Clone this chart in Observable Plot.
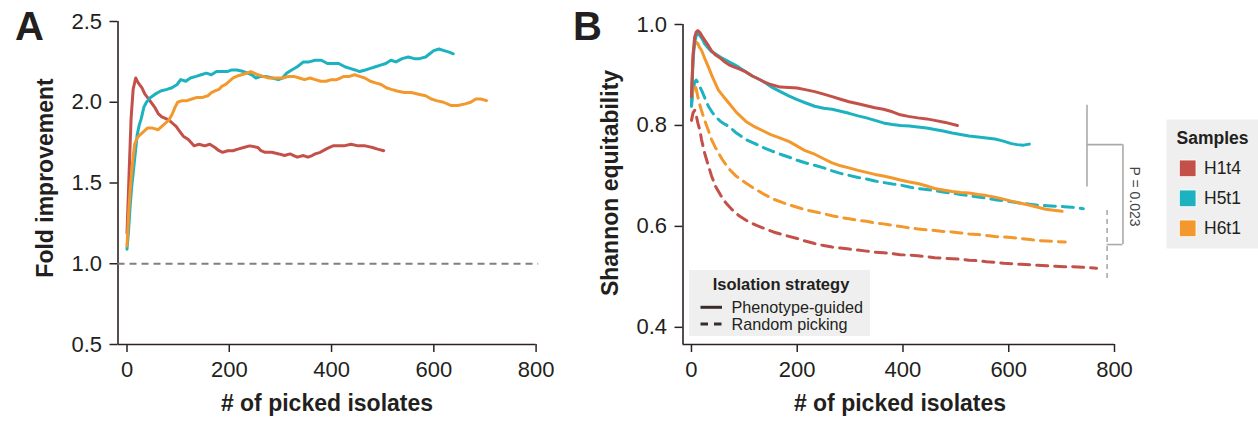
<!DOCTYPE html>
<html><head><meta charset="utf-8">
<script src="https://cdn.jsdelivr.net/npm/d3@7"></script>
<script src="https://cdn.jsdelivr.net/npm/@observablehq/plot@0.6"></script>
<style>
body{margin:0;background:#fff;font-family:"Liberation Sans",Arial,sans-serif;color:#231f20}
#wrap{position:relative;width:1258px;height:421px;overflow:hidden;background:#fff}
#wrap > svg{position:absolute;top:0}
</style></head><body><div id="wrap"></div>
<script>
// ---------- data ----------
const samples = ["H1t4", "H5t1", "H6t1"];
const sampleColors = ["#c4504a", "#1cb2c0", "#f3982c"];
const strategies = ["Phenotype-guided", "Random picking"];
const xTicks = [0, 200, 400, 600, 800];
const yTicksA = [0.5, 1.0, 1.5, 2.0, 2.5];
const yTicksB = [0.4, 0.6, 0.8, 1.0];
const baselineFold = 1.0;

// Panel A: fold improvement [isolates, fold]
const foldH1t4 = [[0,1.19],[4,1.55],[8,1.9],[12,2.08],[17,2.15],[22,2.12],[29,2.09],[35,2.05],[40,2.03],[47,2.0],[54,1.97],[61,1.93],[68,1.91],[75,1.9],[82,1.89],[89,1.87],[96,1.85],[103,1.82],[110,1.79],[120,1.77],[131,1.73],[141,1.74],[152,1.73],[162,1.74],[172,1.72],[180,1.70],[187,1.69],[197,1.70],[207,1.70],[217,1.71],[228,1.72],[240,1.73],[256,1.72],[262,1.70],[270,1.69],[283,1.69],[297,1.68],[308,1.67],[319,1.68],[326,1.67],[333,1.66],[345,1.67],[354,1.66],[362,1.67],[368,1.68],[378,1.69],[389,1.71],[396,1.72],[403,1.73],[414,1.73],[424,1.73],[438,1.74],[452,1.73],[466,1.73],[480,1.72],[490,1.71],[502,1.70]];
const foldH5t1 = [[0,1.09],[3,1.2],[6,1.35],[9,1.47],[12,1.56],[16,1.68],[20,1.80],[24,1.86],[28,1.90],[33,1.97],[38,2.00],[46,2.03],[55,2.05],[66,2.07],[78,2.08],[88,2.09],[98,2.11],[105,2.14],[115,2.13],[124,2.15],[135,2.16],[145,2.17],[155,2.18],[165,2.17],[175,2.19],[186,2.19],[196,2.19],[205,2.20],[215,2.20],[228,2.19],[236,2.18],[244,2.17],[252,2.15],[262,2.16],[272,2.16],[284,2.15],[296,2.14],[304,2.15],[312,2.18],[322,2.20],[333,2.22],[345,2.25],[356,2.25],[368,2.26],[380,2.26],[392,2.24],[402,2.24],[414,2.24],[426,2.22],[436,2.21],[446,2.20],[455,2.19],[466,2.20],[476,2.21],[486,2.22],[496,2.23],[506,2.24],[516,2.26],[526,2.25],[538,2.27],[550,2.28],[562,2.27],[572,2.27],[584,2.28],[592,2.30],[600,2.32],[610,2.33],[620,2.32],[630,2.31],[638,2.30]];
const foldH6t1 = [[0,1.11],[3,1.3],[6,1.45],[9,1.56],[12,1.66],[15,1.74],[20,1.78],[26,1.80],[33,1.82],[40,1.84],[50,1.84],[61,1.83],[68,1.85],[75,1.87],[82,1.89],[89,1.93],[94,1.97],[99,2.00],[108,2.01],[117,2.01],[127,2.02],[137,2.03],[148,2.03],[158,2.04],[165,2.06],[172,2.07],[180,2.08],[186,2.10],[193,2.11],[200,2.13],[207,2.15],[214,2.16],[224,2.17],[235,2.18],[242,2.19],[249,2.18],[256,2.17],[266,2.16],[277,2.15],[290,2.15],[305,2.15],[316,2.16],[326,2.16],[337,2.15],[347,2.14],[358,2.15],[368,2.14],[379,2.13],[389,2.13],[400,2.14],[410,2.14],[417,2.15],[424,2.16],[435,2.16],[445,2.17],[455,2.16],[465,2.15],[476,2.13],[486,2.12],[497,2.11],[507,2.09],[517,2.08],[528,2.07],[542,2.06],[556,2.06],[570,2.05],[584,2.04],[595,2.02],[605,2.01],[619,2.00],[633,1.98],[647,1.98],[661,1.99],[672,2.00],[682,2.02],[692,2.02],[703,2.01]];

// Panel B: Shannon equitability
const phenoH1t4_x = [0,3,6,9,12,16,20,25,32,38,45,55,64,71,80,90,103,115,125,136,150,168,185,200,215,233,250,266,282,298,315,331,347,363,380,395,410,428,445,460,480,503];
const phenoH1t4_y = [0.857,0.94,0.975,0.985,0.988,0.984,0.977,0.969,0.958,0.948,0.94,0.933,0.925,0.92,0.916,0.912,0.906,0.898,0.893,0.887,0.881,0.876,0.875,0.874,0.871,0.867,0.862,0.857,0.852,0.847,0.843,0.839,0.835,0.832,0.827,0.821,0.818,0.815,0.813,0.81,0.806,0.80];
const phenoH5t1_x = [0,3,6,9,12,16,20,25,32,38,45,55,64,71,80,90,103,115,125,136,150,168,185,200,215,233,250,266,282,298,315,331,347,363,380,395,412,428,445,460,476,493,509,525,542,558,574,590,605,616,628,639];
const phenoH5t1_y = [0.84,0.93,0.965,0.978,0.982,0.978,0.972,0.962,0.953,0.946,0.942,0.935,0.93,0.926,0.921,0.915,0.906,0.898,0.893,0.887,0.877,0.867,0.858,0.851,0.845,0.838,0.834,0.832,0.828,0.824,0.819,0.815,0.81,0.805,0.802,0.80,0.799,0.797,0.795,0.792,0.789,0.785,0.782,0.779,0.777,0.775,0.773,0.769,0.764,0.762,0.761,0.763];
const phenoH6t1_x = [0,2,4,6,9,12,15,19,25,32,40,51,60,71,85,103,120,136,150,168,185,200,215,233,250,266,282,298,315,331,347,363,380,395,412,428,445,460,476,493,509,525,542,558,574,590,605,623,640,655,670,685,701];
const phenoH6t1_y = [0.85,0.91,0.95,0.96,0.965,0.962,0.955,0.949,0.933,0.916,0.895,0.87,0.858,0.844,0.826,0.808,0.797,0.789,0.782,0.775,0.768,0.759,0.75,0.743,0.734,0.726,0.72,0.716,0.711,0.707,0.703,0.70,0.696,0.692,0.688,0.685,0.68,0.675,0.672,0.669,0.667,0.666,0.663,0.661,0.658,0.654,0.65,0.646,0.642,0.638,0.634,0.632,0.63];
const randH1t4_x = [0,3,6,9,12,16,19,25,32,38,45,55,64,77,90,105,123,140,155,178,200,215,233,250,266,282,298,315,331,347,363,380,395,412,428,445,460,476,493,509,525,542,558,574,590,605,623,640,655,672,688,705,720,740,766];
const randH1t4_y = [0.81,0.825,0.83,0.82,0.805,0.79,0.772,0.745,0.72,0.70,0.68,0.662,0.648,0.633,0.621,0.611,0.602,0.595,0.589,0.582,0.576,0.571,0.566,0.562,0.559,0.557,0.555,0.553,0.551,0.549,0.548,0.546,0.544,0.543,0.542,0.54,0.538,0.537,0.536,0.535,0.533,0.532,0.53,0.529,0.527,0.526,0.525,0.524,0.523,0.522,0.521,0.52,0.52,0.519,0.517];
const randH5t1_x = [0,3,6,9,12,15,19,25,32,38,45,55,64,71,85,103,120,136,150,168,185,200,215,233,250,266,282,298,315,331,347,363,380,395,412,428,445,460,476,493,509,525,542,558,574,590,605,623,640,655,672,688,705,720,741];
const randH5t1_y = [0.838,0.87,0.885,0.89,0.885,0.878,0.87,0.855,0.838,0.828,0.818,0.808,0.802,0.798,0.785,0.772,0.764,0.756,0.75,0.743,0.737,0.731,0.726,0.721,0.716,0.71,0.705,0.701,0.697,0.694,0.69,0.687,0.684,0.682,0.678,0.675,0.673,0.671,0.668,0.666,0.663,0.661,0.658,0.656,0.653,0.651,0.649,0.646,0.644,0.642,0.641,0.64,0.639,0.638,0.635];
const randH6t1_x = [0,3,6,9,12,16,20,25,32,38,45,58,70,84,100,116,135,155,178,200,215,233,250,266,282,298,315,331,347,363,380,395,412,428,445,460,476,493,509,525,542,558,574,590,605,623,640,655,672,688,707];
const randH6t1_y = [0.85,0.87,0.88,0.872,0.857,0.84,0.826,0.81,0.79,0.772,0.757,0.733,0.715,0.70,0.688,0.677,0.665,0.654,0.645,0.638,0.633,0.629,0.625,0.621,0.618,0.615,0.612,0.61,0.607,0.605,0.602,0.60,0.597,0.595,0.593,0.592,0.59,0.589,0.587,0.585,0.584,0.582,0.58,0.579,0.578,0.576,0.574,0.572,0.571,0.57,0.569];

// significance bracket (data units)
const groupPheno = {x: 748, y1: 0.678, y2: 0.84};
const groupRandom = {x: 786, y1: 0.497, y2: 0.636};
const bracketJoin = {x: 816, yTop: 0.762, yBottom: 0.564};
const pLabel = {text: "P = 0.023", x: 837, y: 0.659};

// ---------- build ----------
const FONT = '"Liberation Sans", Arial, sans-serif';
const AX = "#2d2222";
const INK = "#231f20";

const rowsA = [];
[foldH1t4, foldH5t1, foldH6t1].forEach((arr, i) => arr.forEach(([x, y]) => rowsA.push({sample: samples[i], x, y})));
const rowsB = [];
function addB(xs, ys, sample, strategy) { xs.forEach((x, i) => rowsB.push({sample, strategy, x, y: ys[i]})); }
addB(randH1t4_x, randH1t4_y, "H1t4", strategies[1]);
addB(randH5t1_x, randH5t1_y, "H5t1", strategies[1]);
addB(randH6t1_x, randH6t1_y, "H6t1", strategies[1]);
addB(phenoH6t1_x, phenoH6t1_y, "H6t1", strategies[0]);
addB(phenoH5t1_x, phenoH5t1_y, "H5t1", strategies[0]);
addB(phenoH1t4_x, phenoH1t4_y, "H1t4", strategies[0]);

const xDomA = [-17.6, 800], yDomA = [0.5, 2.5];
const xDomB = [-16, 800], yDomB = [0.366, 1.0];

const plotA = Plot.plot({
  width: 560, height: 421,
  marginLeft: 117.5, marginRight: 24.4, marginTop: 21, marginBottom: 77,
  style: {fontFamily: FONT, fontSize: "22px", color: AX, background: "transparent", overflow: "visible"},
  x: {domain: xDomA},
  y: {domain: yDomA},
  color: {domain: samples, range: sampleColors},
  marks: [
    Plot.axisX({ticks: xTicks, tickSize: 8, tickPadding: 9, label: null, tickFormat: d => String(d), fontSize: 22, fill: INK, strokeWidth: 1.5}),
    Plot.axisY({ticks: yTicksA, tickSize: 8, tickPadding: 8, label: null, tickFormat: d => d.toFixed(1), fontSize: 22, fill: INK, strokeWidth: 1.5}),
    Plot.ruleY([yDomA[0]], {x1: xDomA[0], x2: 800, stroke: AX, strokeWidth: 1.6}),
    Plot.ruleX([xDomA[0]], {y1: yDomA[0], y2: yDomA[1], stroke: AX, strokeWidth: 1.6}),
    Plot.ruleY([baselineFold], {x1: xDomA[0], x2: 805, stroke: "#808080", strokeWidth: 2, strokeDasharray: "7,5"}),
    Plot.line(rowsA, {x: "x", y: "y", z: "sample", stroke: "sample", strokeWidth: 3, strokeLinejoin: "round"})
  ]
});
plotA.style.left = "0px";

const plotB = Plot.plot({
  width: 698, height: 421,
  marginLeft: 122.5, marginRight: 144, marginTop: 24, marginBottom: 77,
  style: {fontFamily: FONT, fontSize: "22px", color: AX, background: "transparent", overflow: "visible"},
  x: {domain: xDomB},
  y: {domain: yDomB},
  color: {domain: samples, range: sampleColors},
  marks: [
    Plot.axisX({ticks: xTicks, tickSize: 8, tickPadding: 9, label: null, tickFormat: d => String(d), fontSize: 22, fill: INK, strokeWidth: 1.5}),
    Plot.axisY({ticks: yTicksB, tickSize: 8, tickPadding: 8, label: null, tickFormat: d => d.toFixed(1), fontSize: 22, fill: INK, strokeWidth: 1.5}),
    Plot.ruleY([yDomB[0]], {x1: xDomB[0], x2: 800, stroke: AX, strokeWidth: 1.6}),
    Plot.ruleX([xDomB[0]], {y1: yDomB[0], y2: yDomB[1], stroke: AX, strokeWidth: 1.6}),
    Plot.line(rowsB.filter(d => d.strategy === strategies[1]), {x: "x", y: "y", z: "sample", stroke: "sample", strokeWidth: 3, strokeDasharray: "11,7"}),
    Plot.line(rowsB.filter(d => d.strategy === strategies[0]), {x: "x", y: "y", z: "sample", stroke: "sample", strokeWidth: 3, strokeLinejoin: "round"}),
    Plot.ruleX([groupPheno.x], {y1: groupPheno.y1, y2: groupPheno.y2, stroke: "#aaaaaa", strokeWidth: 1.6}),
    Plot.ruleY([bracketJoin.yTop], {x1: groupPheno.x, x2: bracketJoin.x, stroke: "#aaaaaa", strokeWidth: 1.6}),
    Plot.ruleX([bracketJoin.x], {y1: bracketJoin.yBottom, y2: bracketJoin.yTop, stroke: "#aaaaaa", strokeWidth: 1.6}),
    Plot.ruleY([bracketJoin.yBottom], {x1: groupRandom.x, x2: bracketJoin.x, stroke: "#aaaaaa", strokeWidth: 1.6}),
    Plot.ruleX([groupRandom.x], {y1: groupRandom.y1, y2: groupRandom.y2, stroke: "#aaaaaa", strokeWidth: 1.6, strokeDasharray: "5,4"}),
    Plot.text([pLabel], {x: "x", y: "y", text: "text", rotate: 90, fontSize: 14, fill: "#444", textAnchor: "middle", lineAnchor: "middle"})
  ]
});
plotB.style.left = "560px";

const wrap = document.getElementById("wrap");
wrap.appendChild(plotA);
wrap.appendChild(plotB);

// overlay: panel letters, axis titles, legends
const ov = d3.select(wrap).append("svg")
  .attr("width", 1258).attr("height", 421)
  .style("position", "absolute").style("left", "0px").style("top", "0px")
  .style("font-family", FONT).style("pointer-events", "none");

function txt(x, y, s, size, weight, anchor, rot) {
  const t = ov.append("text").attr("font-size", size).attr("font-weight", weight)
    .attr("fill", INK).attr("text-anchor", anchor || "start").text(s);
  if (rot) t.attr("transform", `translate(${x},${y}) rotate(${rot})`);
  else t.attr("x", x).attr("y", y);
  return t;
}
txt(15, 40, "A", 40, "bold");
txt(573, 40, "B", 40, "bold");
txt(52.5, 178, "Fold improvement", 23, "bold", "middle", -90);
txt(327, 411, "# of picked isolates", 23, "bold", "middle");
txt(617.5, 183, "Shannon equitability", 23, "bold", "middle", -90);
txt(900, 411, "# of picked isolates", 23, "bold", "middle");

// Isolation strategy legend
ov.append("rect").attr("x", 689).attr("y", 270).attr("width", 181).attr("height", 66).attr("fill", "#efefef");
txt(781, 290, "Isolation strategy", 16.5, "bold", "middle");
ov.append("line").attr("x1", 700.5).attr("x2", 722).attr("y1", 307.3).attr("y2", 307.3)
  .attr("stroke", "#3a2b2b").attr("stroke-width", 3);
ov.append("line").attr("x1", 700.5).attr("x2", 722).attr("y1", 324).attr("y2", 324)
  .attr("stroke", "#3a2b2b").attr("stroke-width", 3).attr("stroke-dasharray", "7.5,6");
txt(731.5, 312.8, strategies[0], 16.2, "normal");
txt(731.5, 329.5, strategies[1], 16.2, "normal");

// Samples legend
ov.append("rect").attr("x", 1166.5).attr("y", 119.5).attr("width", 100).attr("height", 129).attr("fill", "#efefef");
txt(1176.5, 144.3, "Samples", 17.5, "bold");
samples.forEach((s, i) => {
  ov.append("rect").attr("x", 1179.3).attr("y", 160 + i * 30).attr("width", 16.7).attr("height", 16.7)
    .attr("fill", sampleColors[i]).attr("stroke", "#fff").attr("stroke-width", 0.8);
  txt(1204, 174.3 + i * 30, s, 17.5, "normal");
});
</script></body></html>
